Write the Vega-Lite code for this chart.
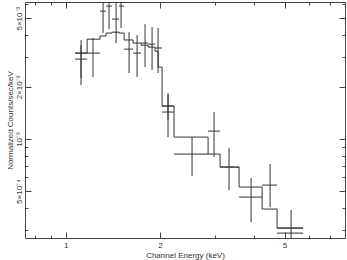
{
  "$schema": "https://vega.github.io/schema/vega-lite/v6.json",
  "width": 320,
  "height": 236,
  "autosize": "none",
  "padding": {"left": 25, "top": 2, "right": 2, "bottom": 22},
  "background": "white",
  "config": {
    "view": {"stroke": "#444", "strokeWidth": 1},
    "axis": {
      "domain": false,
      "grid": false,
      "tickColor": "#444",
      "labelFont": "Liberation Sans",
      "titleFont": "Liberation Sans",
      "labelFontSize": 8,
      "titleFontSize": 8,
      "titleFontWeight": "normal",
      "labelColor": "#333",
      "titleColor": "#333"
    }
  },
  "datasets": {
    "crosses": [
      {"x": 1.119, "xlo": 1.071, "xhi": 1.170, "y": 0.00314, "ylo": 0.00225, "yhi": 0.00374},
      {"x": 1.119, "xlo": 1.071, "xhi": 1.170, "y": 0.00290, "ylo": 0.00205, "yhi": 0.00349},
      {"x": 1.222, "xlo": 1.170, "xhi": 1.287, "y": 0.00314, "ylo": 0.00228, "yhi": 0.00384},
      {"x": 1.316, "xlo": 1.287, "xhi": 1.345, "y": 0.00549, "ylo": 0.00410, "yhi": 0.0073},
      {"x": 1.375, "xlo": 1.345, "xhi": 1.406, "y": 0.00587, "ylo": 0.00432, "yhi": 0.0075},
      {"x": 1.448, "xlo": 1.406, "xhi": 1.480, "y": 0.00494, "ylo": 0.00359, "yhi": 0.0068},
      {"x": 1.502, "xlo": 1.480, "xhi": 1.536, "y": 0.00587, "ylo": 0.00438, "yhi": 0.0075},
      {"x": 1.593, "xlo": 1.536, "xhi": 1.641, "y": 0.00331, "ylo": 0.00241, "yhi": 0.00415},
      {"x": 1.690, "xlo": 1.641, "xhi": 1.740, "y": 0.00314, "ylo": 0.00228, "yhi": 0.00399},
      {"x": 1.792, "xlo": 1.740, "xhi": 1.832, "y": 0.00359, "ylo": 0.00261, "yhi": 0.00462},
      {"x": 1.887, "xlo": 1.832, "xhi": 1.929, "y": 0.00354, "ylo": 0.00251, "yhi": 0.00444},
      {"x": 1.972, "xlo": 1.929, "xhi": 2.031, "y": 0.00336, "ylo": 0.00241, "yhi": 0.00438},
      {"x": 2.122, "xlo": 2.031, "xhi": 2.218, "y": 0.001552, "ylo": 0.001288, "yhi": 0.001845},
      {"x": 2.122, "xlo": 2.031, "xhi": 2.218, "y": 0.001433, "ylo": 0.001027, "yhi": 0.001796},
      {"x": 2.532, "xlo": 2.218, "xhi": 2.849, "y": 0.000819, "ylo": 0.000611, "yhi": 0.001027},
      {"x": 2.977, "xlo": 2.849, "xhi": 3.112, "y": 0.001112, "ylo": 0.000787, "yhi": 0.001433},
      {"x": 3.324, "xlo": 3.112, "xhi": 3.579, "y": 0.000689, "ylo": 0.000507, "yhi": 0.000887},
      {"x": 3.909, "xlo": 3.579, "xhi": 4.240, "y": 0.000462, "ylo": 0.000331, "yhi": 0.000595},
      {"x": 4.495, "xlo": 4.240, "xhi": 4.733, "y": 0.000542, "ylo": 0.000404, "yhi": 0.000717},
      {"x": 5.246, "xlo": 4.733, "xhi": 5.731, "y": 0.000306, "ylo": 0.000228, "yhi": 0.000389}
    ],
    "model": [
      {"x": 1.071, "y": 0.00314},
      {"x": 1.170, "y": 0.00378},
      {"x": 1.287, "y": 0.00394},
      {"x": 1.345, "y": 0.00410},
      {"x": 1.406, "y": 0.00415},
      {"x": 1.480, "y": 0.00410},
      {"x": 1.536, "y": 0.00374},
      {"x": 1.641, "y": 0.00359},
      {"x": 1.740, "y": 0.00349},
      {"x": 1.832, "y": 0.00340},
      {"x": 1.929, "y": 0.00322},
      {"x": 1.972, "y": 0.00261},
      {"x": 2.031, "y": 0.001552},
      {"x": 2.218, "y": 0.001027},
      {"x": 2.849, "y": 0.000819},
      {"x": 3.112, "y": 0.000689},
      {"x": 3.579, "y": 0.000528},
      {"x": 4.240, "y": 0.000394},
      {"x": 4.733, "y": 0.000306},
      {"x": 5.731, "y": 0.000306}
    ],
    "model2": [
      {"x": 4.733, "y": 0.000286},
      {"x": 5.731, "y": 0.000286}
    ]
  },
  "layer": [
    {
      "data": {"name": "crosses"},
      "mark": {"type": "rule", "color": "#333", "strokeWidth": 1, "clip": true},
      "encoding": {
        "x": {
          "field": "xlo", "type": "quantitative",
          "scale": {"type": "log", "domain": [0.741, 7.8], "nice": false, "zero": false},
          "axis": {
            "orient": "bottom",
            "title": "Channel Energy (keV)",
            "values": [0.8, 0.9, 1, 2, 3, 4, 5, 6, 7],
            "labelExpr": "datum.value==1?'1':datum.value==2?'2':datum.value==5?'5':''",
            "tickSize": {"condition": {"test": "datum.value==1||datum.value==2||datum.value==5", "value": -6}, "value": -3},
            "labelPadding": 9,
            "titlePadding": 2,
            "labelFlush": false
          }
        },
        "x2": {"field": "xhi"},
        "y": {
          "field": "y", "type": "quantitative",
          "scale": {"type": "log", "domain": [0.000268, 0.0062], "nice": false, "zero": false},
          "axis": {
            "orient": "left",
            "title": "Normalized Counts/sec/keV",
            "values": [0.0003, 0.0004, 0.0005, 0.0006, 0.0007, 0.0008, 0.0009, 0.001, 0.002, 0.003, 0.004, 0.005, 0.006],
            "labelExpr": "datum.value==0.0005?'5×10⁻⁴':datum.value==0.001?'10⁻³':datum.value==0.002?'2×10⁻³':datum.value==0.005?'5×10⁻³':''",
            "tickSize": {"condition": {"test": "datum.value==0.0005||datum.value==0.001||datum.value==0.002||datum.value==0.005", "value": -6}, "value": -3},
            "labelAngle": -90,
            "labelAlign": "center",
            "labelBaseline": "bottom",
            "labelPadding": 8,
            "titlePadding": 1,
            "labelFlush": false
          }
        }
      }
    },
    {
      "data": {"name": "crosses"},
      "mark": {"type": "rule", "color": "#333", "strokeWidth": 1, "clip": true},
      "encoding": {
        "x": {
          "field": "x", "type": "quantitative",
          "axis": {
            "orient": "top", "title": null, "labels": false,
            "values": [0.8, 0.9, 1, 2, 3, 4, 5, 6, 7],
            "tickSize": {"condition": {"test": "datum.value==1||datum.value==2||datum.value==5", "value": -6}, "value": -3}
          }
        },
        "y": {
          "field": "ylo", "type": "quantitative",
          "axis": {
            "orient": "right", "title": null, "labels": false,
            "values": [0.0003, 0.0004, 0.0005, 0.0006, 0.0007, 0.0008, 0.0009, 0.001, 0.002, 0.003, 0.004, 0.005, 0.006],
            "tickSize": {"condition": {"test": "datum.value==0.0005||datum.value==0.001||datum.value==0.002||datum.value==0.005", "value": -6}, "value": -3}
          }
        },
        "y2": {"field": "yhi"}
      }
    },
    {
      "data": {"name": "model"},
      "mark": {"type": "line", "interpolate": "step-after", "color": "#333", "strokeWidth": 1, "clip": true},
      "encoding": {
        "x": {"field": "x", "type": "quantitative", "axis": null},
        "y": {"field": "y", "type": "quantitative", "axis": null}
      }
    },
    {
      "data": {"name": "model2"},
      "mark": {"type": "line", "interpolate": "step-after", "color": "#333", "strokeWidth": 1, "clip": true},
      "encoding": {
        "x": {"field": "x", "type": "quantitative", "axis": null},
        "y": {"field": "y", "type": "quantitative", "axis": null}
      }
    }
  ],
  "resolve": {"axis": {"x": "independent", "y": "independent"}}
}
